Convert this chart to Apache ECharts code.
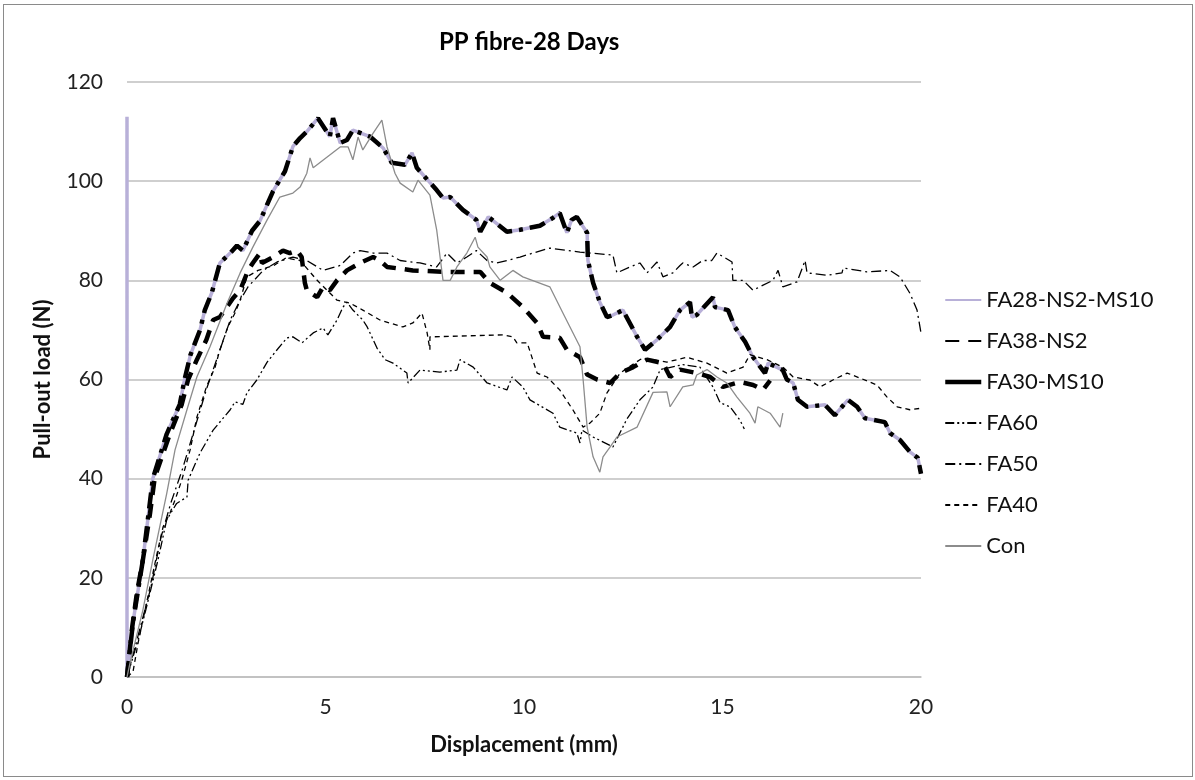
<!DOCTYPE html>
<html>
<head>
<meta charset="utf-8">
<script src="https://cdn.jsdelivr.net/npm/echarts@6/dist/echarts.min.js"></script>
<style>
  html, body { margin: 0; padding: 0; background: #fff; }
  #chart { width: 1195px; height: 780px; }
  #frame { position: absolute; left: 3px; top: 4px; width: 1188px; height: 771px; border: 1px solid #8a8a8a; pointer-events: none; }
</style>
</head>
<body>
<div id="chart"></div>
<div id="frame"></div>
<script>
// displacement (mm), load (N) pairs
const fa28Ns2Ms10 = [
  [0, 113], [0, 0], [0.15, 11], [0.4, 23.6], [0.65, 40], [1.0, 49], [1.33, 55], [1.45, 60], [1.6, 65],
  [1.84, 70], [1.96, 74], [2.14, 77.6], [2.34, 83.5], [2.6, 85.5], [2.77, 87], [2.92, 86], [3.15, 90],
  [3.35, 92], [3.68, 98], [3.98, 102], [4.18, 107], [4.36, 108.7], [4.53, 110], [4.81, 112.7], [5.11, 109],
  [5.19, 112.7], [5.37, 107.7], [5.54, 108.3], [5.69, 110.3], [6.12, 109], [6.45, 106.7], [6.67, 103.7],
  [7.0, 103.3], [7.18, 105.7], [7.3, 102.7], [7.8, 98.2], [7.96, 96.6], [8.14, 96.8], [8.46, 94.2],
  [8.8, 92.2], [8.9, 89.8], [9.1, 92.8], [9.57, 89.8], [9.9, 90.2], [10.4, 91], [10.73, 92.6], [10.9, 93.6],
  [11.08, 89.6], [11.2, 92.2], [11.33, 92.8], [11.49, 90.8], [11.59, 89.6], [11.61, 84], [11.74, 79.5],
  [11.91, 75.6], [12.09, 72.6], [12.24, 73], [12.49, 74], [12.85, 68.6], [13.05, 66], [13.35, 68],
  [13.68, 70.6], [13.93, 74], [14.18, 75.6], [14.23, 72.6], [14.35, 73], [14.76, 76.6], [14.81, 74.6],
  [15.14, 74], [15.31, 70.6], [15.57, 67.6], [15.77, 64.5], [16.07, 61.3], [16.15, 63.3], [16.52, 61.9],
  [16.62, 60], [16.78, 59.3], [16.9, 55.9], [17.13, 54.5], [17.58, 54.9], [17.83, 52.8], [18.16, 55.9],
  [18.39, 54.5], [18.59, 52.2], [19.09, 51.4], [19.22, 49.2], [19.47, 47.8], [19.72, 45.4], [19.92, 44.2],
  [20, 41]
]
// FA30-MS10 sits on top of FA28-NS2-MS10, but without the jump at x = 0
const fa30Ms10 = fa28Ns2Ms10.slice(1)

const fa38Ns2 = [
  [0, 0], [0.13, 10], [0.25, 17], [0.4, 23.6], [0.58, 33], [0.7, 40.3], [1.08, 49], [1.38, 55], [1.54, 60],
  [1.76, 64], [2.0, 68], [2.17, 72], [2.34, 72.6], [2.67, 76.4], [2.85, 78], [3.05, 82], [3.17, 83.5],
  [3.35, 85.5], [3.4, 83.5], [3.68, 84.7], [3.93, 86], [4.1, 85.5], [4.28, 86], [4.4, 84.7], [4.48, 79.5],
  [4.53, 78], [4.79, 76.6], [4.94, 78.7], [5.11, 78], [5.29, 80], [5.54, 82], [5.87, 83.5], [6.2, 84.7],
  [6.37, 84], [6.55, 82.7], [7.2, 82], [8.06, 81.7], [8.9, 81.7], [9.14, 79.5], [9.57, 77.5], [9.97, 74.6],
  [10.33, 71.4], [10.48, 68.6], [10.9, 68.4], [11.08, 66], [11.41, 64.5], [11.59, 61], [11.84, 60],
  [12.17, 59.3], [12.42, 61.3], [12.75, 62.5], [13.1, 64], [13.5, 63.3], [13.68, 60.5], [13.93, 62],
  [14.35, 61.3], [14.69, 60.5], [15.01, 58.5], [15.44, 59.5], [15.77, 58.9], [16.02, 57.9], [16.2, 59.8]
]

const fa60 = [
  [0, 0], [0.3, 8], [0.55, 16], [0.78, 23.6], [1.0, 31.7], [1.25, 35], [1.51, 36.3], [1.54, 39.7],
  [1.84, 45.2], [2.17, 49.8], [2.6, 53.9], [2.72, 55.5], [2.92, 55], [3.02, 57.3], [3.27, 59.9],
  [3.53, 63.5], [3.78, 66], [4.03, 68.4], [4.18, 68.6], [4.41, 67.4], [4.69, 69.4], [4.94, 70.4],
  [5.06, 69], [5.29, 72], [5.44, 74.6], [5.54, 75.6], [5.69, 74], [5.94, 72], [6.05, 70.6], [6.3, 66.3],
  [6.5, 64], [6.7, 63.3], [7.05, 61.3], [7.08, 59.3], [7.38, 61.9], [7.88, 61.5], [8.31, 61.9], [8.39, 64],
  [8.72, 62.5], [9.07, 59.3], [9.57, 57.9], [9.7, 60.5], [9.97, 58.5], [10.15, 55.9], [10.73, 53.2],
  [10.9, 50.4], [11.33, 49.2], [11.41, 47.2], [11.46, 49.8], [11.74, 48.4], [12.24, 46.4], [12.59, 52],
  [12.92, 55.9], [13.25, 58.5], [13.43, 62], [14.0, 63], [14.43, 62.5], [14.76, 58.5], [14.94, 55.3],
  [15.19, 54.5], [15.44, 51.8], [15.55, 50]
]

const fa50 = [
  [0, 0], [0.3, 9], [0.6, 18], [0.85, 28], [1.1, 35], [1.4, 42], [1.7, 50], [2.0, 58], [2.3, 65], [2.6, 72],
  [2.85, 76], [3.05, 78.7], [3.43, 82], [3.78, 83.7], [4.18, 84.7], [4.53, 84], [4.94, 82], [5.37, 83],
  [5.69, 85.5], [5.87, 86], [6.2, 85.5], [6.55, 85.5], [6.88, 84], [7.38, 83.5], [7.8, 82.7], [8.06, 85.5],
  [8.31, 83.5], [8.56, 84.7], [8.8, 86], [9.07, 84], [9.32, 83.5], [9.57, 84], [9.9, 84.7], [10.23, 85.5],
  [10.65, 86.5], [11.41, 85.7], [12.24, 85.1], [12.34, 81.5], [12.67, 82.7], [12.92, 83.5], [13.1, 81.5],
  [13.35, 83.7], [13.5, 80.7], [13.75, 81.5], [13.93, 83], [14.0, 83.5], [14.26, 82.7], [14.5, 84],
  [14.73, 84], [14.86, 85.5], [15.24, 83.7], [15.26, 80], [15.52, 80], [15.77, 78], [15.94, 78.7],
  [16.27, 80], [16.4, 82], [16.52, 78.7], [16.88, 79.7], [17.08, 84], [17.13, 81.5], [17.63, 81],
  [18.01, 81.5], [18.04, 82.5], [18.64, 81.7], [19.22, 82], [19.47, 80.7], [19.72, 77.4], [19.9, 74],
  [20, 69.4]
]

const fa40 = [
  [0, 0], [0.15, 1], [0.28, 6.9], [0.4, 11.5], [0.58, 18.2], [0.76, 25], [0.91, 30.3], [1.08, 33],
  [1.21, 35.7], [1.38, 39.7], [1.59, 45.8], [1.76, 52.4], [2.0, 58.5], [2.22, 62.5], [2.34, 66],
  [2.54, 70.6], [2.72, 73.4], [2.85, 76], [3.02, 80.7], [3.3, 82], [3.7, 83], [4.0, 84.5], [4.36, 84],
  [4.79, 80], [5.29, 76], [5.62, 75.4], [5.94, 74], [6.37, 72], [6.95, 70.6], [7.2, 71.4], [7.43, 73.4],
  [7.56, 69.4], [7.63, 66], [7.63, 68.6], [9.47, 69], [9.72, 68.6], [9.82, 67.4], [10.08, 67.4],
  [10.33, 61.3], [10.58, 60.5], [10.9, 57.9], [11.23, 53.9], [11.49, 50.4], [11.66, 51.2], [11.91, 53.2],
  [12.09, 57.3], [12.42, 61.3], [12.92, 64], [13.0, 64.3], [13.6, 63.5], [14.1, 64.5], [14.61, 63.3],
  [15.11, 61.3], [15.52, 62.5], [15.69, 65], [16.12, 64], [16.52, 62.5], [16.78, 60.5], [17.2, 59.9],
  [17.46, 58.5], [17.78, 59.9], [18.14, 61.3], [18.46, 60.3], [18.89, 58.9], [19.14, 56.5], [19.4, 54.5],
  [19.72, 53.9], [20, 54.2]
]

const con = [
  [0, 0], [0.08, 3], [0.4, 13.5], [0.65, 23.6], [1.0, 37], [1.21, 45.8], [1.51, 53.9], [1.76, 60.5],
  [2.09, 66.6], [2.52, 75.4], [2.85, 81.5], [3.17, 86.7], [3.53, 92.2], [3.85, 96.8], [4.18, 97.6],
  [4.36, 98.8], [4.53, 101.6], [4.61, 104.7], [4.69, 102.7], [5.37, 106.9], [5.57, 106.9], [5.69, 104.3],
  [5.82, 108.9], [5.94, 106.3], [6.2, 109.7], [6.42, 112.3], [6.55, 106.9], [6.75, 101.6], [6.88, 99.6],
  [7.2, 97.8], [7.33, 100.2], [7.63, 97.2], [7.8, 90.2], [7.96, 80], [8.14, 80], [8.31, 82.7], [8.56, 85.5],
  [8.77, 88.7], [8.84, 86.7], [9.07, 84.7], [9.14, 82.7], [9.4, 80], [9.72, 82], [9.97, 80.7], [10.65, 78.7],
  [10.98, 73.4], [11.41, 66.6], [11.49, 59.9], [11.59, 50.4], [11.74, 44.4], [11.91, 41.3], [11.99, 44.4],
  [12.17, 46.4], [12.34, 48.4], [12.85, 50.4], [13.25, 57.4], [13.6, 57.5], [13.68, 54.5], [14.0, 58.5],
  [14.26, 58.9], [14.35, 60.9], [14.61, 62], [14.86, 60.5], [15.11, 59.3], [15.36, 56.5], [15.69, 53.2],
  [15.82, 51.2], [15.89, 54.5], [16.2, 53.2], [16.45, 50.4], [16.52, 53.2]
]

const seriesNames = ['FA28-NS2-MS10', 'FA38-NS2', 'FA30-MS10', 'FA60', 'FA50', 'FA40', 'Con']
const xTicks = [0, 5, 10, 15, 20]
const yTicks = [0, 20, 40, 60, 80, 100, 120]

const font = 'Lato, "Open Sans", sans-serif'

const lineSeries = (name, data, lineStyle) => ({
  name,
  type: 'line',
  data,
  showSymbol: false,
  symbol: 'none',
  animation: false,
  color: lineStyle.color,
  itemStyle: { color: lineStyle.color, opacity: 0 },
  lineStyle
})

const chart = echarts.init(document.getElementById('chart'))

chart.setOption({
  backgroundColor: '#fff',
  title: {
    text: 'PP fibre-28 Days',
    left: 434,
    top: 25,
    textStyle: { fontFamily: font, fontSize: 24, fontWeight: 'bold', color: '#000' }
  },
  legend: {
    orient: 'vertical',
    left: 938,
    top: 284,
    itemWidth: 36,
    itemHeight: 22,
    itemGap: 19,
    itemStyle: { opacity: 0 },
    textStyle: { fontFamily: font, fontSize: 22, color: '#111' },
    data: seriesNames.map(n => n === 'FA30-MS10'
      ? { name: n, lineStyle: { type: 'solid', width: 4.5, color: '#000' } }
      : { name: n })
  },
  grid: { left: 127, right: 274, top: 82, bottom: 103 },
  xAxis: {
    type: 'value',
    min: xTicks[0],
    max: xTicks[xTicks.length - 1],
    interval: 5,
    name: 'Displacement (mm)',
    nameLocation: 'middle',
    nameGap: 57,
    nameTextStyle: { fontFamily: font, fontSize: 22, fontWeight: 'bold', color: '#111' },
    axisLine: { lineStyle: { color: '#bfbfbf', width: 1.5 } },
    axisTick: { show: false },
    splitLine: { show: false },
    axisLabel: { fontFamily: font, fontSize: 21, color: '#222', margin: 20 }
  },
  yAxis: {
    type: 'value',
    min: yTicks[0],
    max: yTicks[yTicks.length - 1],
    interval: 20,
    name: 'Pull-out load (N)',
    nameLocation: 'middle',
    nameGap: 73,
    nameTextStyle: { fontFamily: font, fontSize: 22, fontWeight: 'bold', color: '#111' },
    axisLine: { show: false },
    axisTick: { show: false },
    splitLine: { lineStyle: { color: '#bfbfbf', width: 1.5 } },
    axisLabel: { fontFamily: font, fontSize: 21, color: '#222', margin: 24 }
  },
  series: [
    lineSeries('FA28-NS2-MS10', fa28Ns2Ms10, { color: '#b8b0d8', width: 3.5 }),
    lineSeries('FA38-NS2', fa38Ns2, { color: '#000', width: 4.5, type: [14, 9] }),
    lineSeries('FA30-MS10', fa30Ms10, { color: '#000', width: 4.5, type: [16, 7, 4, 7] }),
    lineSeries('FA60', fa60, { color: '#000', width: 1.3, type: [9, 3, 2, 3, 2, 3] }),
    lineSeries('FA50', fa50, { color: '#000', width: 1.3, type: [10, 4, 2, 4] }),
    lineSeries('FA40', fa40, { color: '#000', width: 1.3, type: [5, 4] }),
    lineSeries('Con', con, { color: '#8c8c8c', width: 1.3 })
  ]
})
</script>
</body>
</html>
